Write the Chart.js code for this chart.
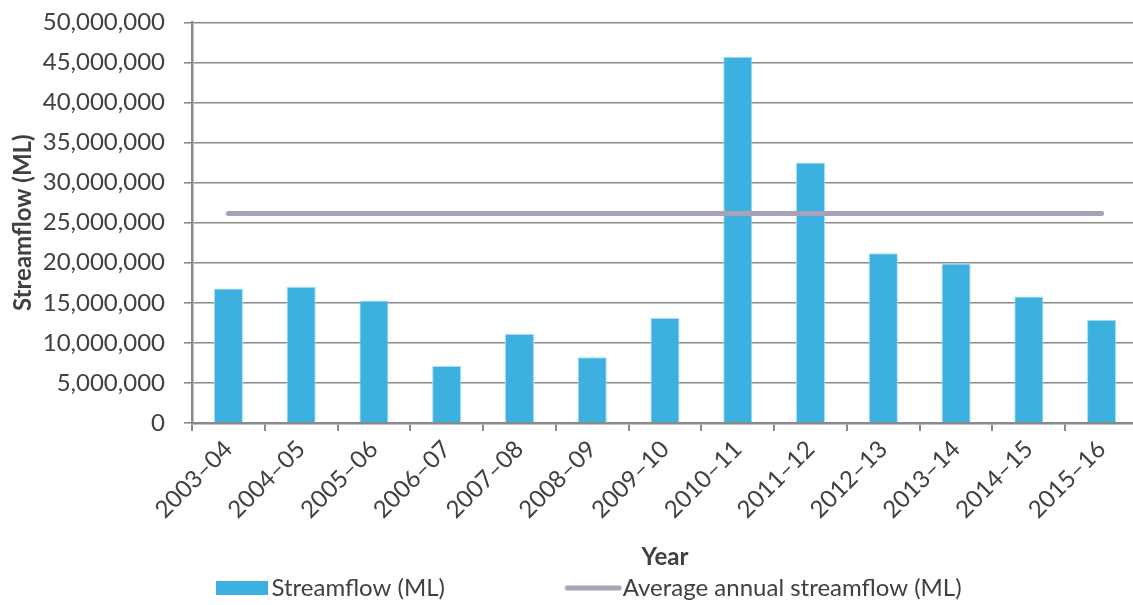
<!DOCTYPE html>
<html>
<head>
<meta charset="utf-8">
<script src="https://cdn.jsdelivr.net/npm/chart.js@4.4.1/dist/chart.umd.min.js"></script>
<style>
html, body { margin: 0; padding: 0; overflow: hidden; background: #ffffff; width: 1133px; height: 605px; }
#wrap { width: 1140px; height: 605px; position: relative; }
canvas { display: block; }
</style>
</head>
<body>
<div id="wrap"><canvas id="c" width="1140" height="605"></canvas></div>
<script>
// ---- data ----
const categories = ['2003–04', '2004–05', '2005–06', '2006–07', '2007–08', '2008–09', '2009–10',
                    '2010–11', '2011–12', '2012–13', '2013–14', '2014–15', '2015–16'];
const streamflow = [16800000, 17000000, 15300000, 7100000, 11100000, 8200000, 13100000,
                    45700000, 32500000, 21200000, 19900000, 15800000, 12900000];
const averageAnnual = [26150000, 26150000, 26150000, 26150000, 26150000, 26150000, 26150000,
                       26150000, 26150000, 26150000, 26150000, 26150000, 26150000];
const seriesNames = ['Streamflow (ML)', 'Average annual streamflow (ML)'];
const xTitle = 'Year';
const yTitle = 'Streamflow (ML)';
const yMin = 0, yMax = 50000000, yStep = 5000000;

// ---- styles ----
const BAR_COLOR = '#3CB0DF';
const BAR_EDGE = '#A9DDF3';
const LINE_COLOR = '#A7A2BA';
const GRID = '#8A8A8A';
const TEXT = '#404040';
const FONT = 'Lato';
const FS = 24;

function swatch(w, h, draw) {
  const c = document.createElement('canvas');
  c.width = w; c.height = h;
  draw(c.getContext('2d'));
  return c;
}
const barSwatch = swatch(52, 14, g => { g.fillStyle = BAR_COLOR; g.fillRect(0, 0, 52, 14); });
const lineSwatch = swatch(58, 7, g => {
  g.strokeStyle = LINE_COLOR; g.lineWidth = 5; g.lineCap = 'round';
  g.beginPath(); g.moveTo(3, 3.5); g.lineTo(55, 3.5); g.stroke();
});

function padText(chart, text, target) {
  const ctx = chart.ctx;
  ctx.save();
  ctx.font = FS + 'px ' + FONT;
  let t = text;
  while (ctx.measureText(t).width < target) t += '\u00A0';
  ctx.restore();
  return t;
}

const ctx = document.getElementById('c').getContext('2d');
new Chart(ctx, {
  data: {
    labels: categories,
    datasets: [
      {
        type: 'bar',
        label: seriesNames[0],
        data: streamflow,
        backgroundColor: BAR_COLOR,
        borderColor: BAR_EDGE,
        borderWidth: { top: 1, left: 1, right: 1, bottom: 0 },
        barPercentage: 0.4,
        categoryPercentage: 1.0,
        order: 2
      },
      {
        type: 'line',
        label: seriesNames[1],
        data: averageAnnual,
        borderColor: LINE_COLOR,
        backgroundColor: LINE_COLOR,
        borderWidth: 5,
        borderCapStyle: 'round',
        pointRadius: 0,
        pointHoverRadius: 0,
        fill: false,
        tension: 0,
        order: 1
      }
    ]
  },
  options: {
    responsive: false,
    animation: false,
    events: [],
    layout: { padding: { top: 11, right: 2, bottom: -5, left: 0 } },
    plugins: {
      tooltip: { enabled: false },
      legend: {
        position: 'bottom',
        align: 'start',
        fullSize: false,
        labels: {
          usePointStyle: true,
          pointStyleWidth: 35,
          padding: 32.5,
          color: TEXT,
          font: { family: FONT, size: FS },
          generateLabels: (chart) => [
            { text: padText(chart, seriesNames[0], 268), pointStyle: barSwatch, fillStyle: BAR_COLOR,
              strokeStyle: BAR_COLOR, lineWidth: 0, datasetIndex: 0, hidden: false, fontColor: TEXT },
            { text: seriesNames[1], pointStyle: lineSwatch, fillStyle: LINE_COLOR,
              strokeStyle: LINE_COLOR, lineWidth: 0, datasetIndex: 1, hidden: false, fontColor: TEXT }
          ]
        }
      }
    },
    scales: {
      x: {
        offset: true,
        grid: { display: true, drawOnChartArea: false, drawTicks: true, tickLength: 8,
                color: GRID, lineWidth: 2, offset: true },
        border: { display: true, color: GRID, width: 2.5 },
        ticks: { autoSkip: false, maxRotation: 45, minRotation: 45, padding: 4,
                 color: TEXT, font: { family: FONT, size: FS } },
        title: { display: true, text: xTitle, color: TEXT,
                 font: { family: FONT, size: FS, weight: 'bold' },
                 padding: { top: 0, bottom: -28 } },
        afterFit: (s) => { s.height = 120.5; }
      },
      y: {
        min: yMin, max: yMax,
        ticks: { stepSize: yStep, padding: 8, color: TEXT, font: { family: FONT, size: FS },
                 callback: (v) => Number(v).toLocaleString('en-US') },
        grid: { color: GRID, lineWidth: 1.6, tickLength: 19, drawTicks: true,
                tickBorderDash: [8, 11], tickBorderDashOffset: 8 },
        border: { display: true, color: GRID, width: 2.5 },
        title: { display: true, text: yTitle, color: TEXT,
                 font: { family: FONT, size: FS, weight: 'bold' },
                 padding: { top: 9, bottom: 0 } },
        afterFit: (s) => { s.width = 192; }
      }
    }
  }
});
</script>
</body>
</html>
